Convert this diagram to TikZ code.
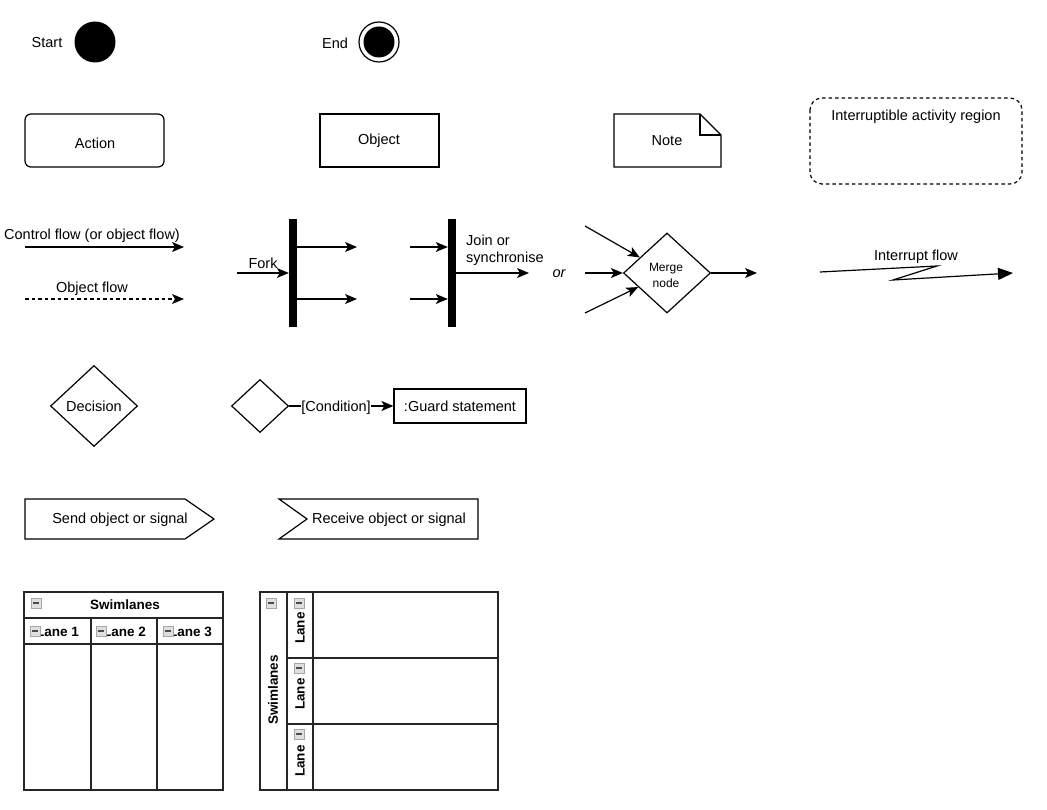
\documentclass[tikz,border=0pt]{standalone}
\usepackage{fontspec}
\setmainfont{Liberation Sans}
\usetikzlibrary{arrows.meta,shapes.geometric,calc}
\begin{document}
\begin{tikzpicture}[x=1pt,y=-1pt,
  font=\fontsize{14.5}{17}\selectfont,
  every node/.style={inner sep=0pt},
  lw/.style={line width=1.2pt},
  arr/.style={lw,-{Stealth[length=12pt,width=10pt,inset=3pt]}},
  bar/.style={fill=black,minimum width=8pt,minimum height=108pt},
  lane/.style={line width=1.6pt,draw=black!85},
  icon/.style={draw=gray!70,fill=gray!25,minimum width=10pt,minimum height=10pt,
    path picture={\draw[black!70,line width=1.8pt]
      ([xshift=2pt]path picture bounding box.west) -- ([xshift=-2pt]path picture bounding box.east);}},
  bold/.style={font=\fontsize{13.5}{16}\selectfont\bfseries}
]
\useasboundingbox (0,0) rectangle (1047,810);

% Start / End
\node (tstart) at (47,43) {Start};
\node[circle,fill=black,minimum size=41pt] (start) at (95,42) {};
\node (tend) at (335,43) {End};
\node[circle,draw,lw,minimum size=40pt] (endo) at (379,42) {};
\node[circle,fill=black,minimum size=31pt] (endi) at (379,42) {};

% Action / Object / Note / Region
\node[draw,lw,rounded corners=6pt,minimum width=139pt,minimum height=53pt] (action) at (94.5,140.5) {};
\node (taction) at (95,143) {Action};
\node[draw,lw,minimum width=119pt,minimum height=53pt] (object) at (379.5,140.5) {};
\node (tobject) at (379,141) {Object};
\coordinate (n1) at (614,114);
\coordinate (n2) at (700,114);
\coordinate (n3) at (721,135);
\coordinate (n4) at (721,167);
\coordinate (n5) at (614,167);
\draw[lw] (n1) -- (n2) -- (n3) -- (n4) -- (n5) -- cycle;
\draw[lw] (n2) -- (n2 |- n3) -- (n3);
\node (note) at (667,141) {Note};
\draw[lw,dash pattern=on 3.5pt off 3pt,rounded corners=12pt] (810,98) rectangle (1022,184);
\node (region) at (916,117) {Interruptible activity region};

% Flows
\coordinate (cf0) at (25,247);
\coordinate (cf1) at (184,247);
\draw[arr] (cf0) -- (cf1);
\node (tcf) at (92,236) {Control flow (or object flow)};
\coordinate (of0) at (25,299);
\coordinate (of1) at (184,299);
\draw[arr,dash pattern=on 3.5pt off 3pt] (of0) -- (of1);
\node (tof) at (92,289) {Object flow};

% Fork
\node[bar] (fork) at (293,273) {};
\coordinate (fin) at (237,273);
\draw[arr] (fin) -- (fork.west |- fin);
\node (tfork) at (263,263) {Fork};
\coordinate (fo1) at (357,247);
\coordinate (fo2) at (357,299);
\draw[arr] (fork.east |- fo1) -- (fo1);
\draw[arr] (fork.east |- fo2) -- (fo2);

% Join
\node[bar] (join) at (452,273) {};
\coordinate (ji1) at (410,247);
\coordinate (ji2) at (410,299);
\draw[arr] (ji1) -- (join.west |- ji1);
\draw[arr] (ji2) -- (join.west |- ji2);
\coordinate (jo) at (529,273);
\draw[arr] (join.east |- jo) -- (jo);
\node[align=left,anchor=north west,font=\fontsize{14.5}{17}\selectfont] (tjoin) at (466,235) {Join or\\synchronise};
\node (tor) at (559,274) {\itshape or};

% Merge
\node[diamond,draw,lw,minimum width=87pt,minimum height=80pt] (merge) at (667,273) {};
\node[font=\fontsize{12}{16}\selectfont,align=center] (tmerge) at (666,275) {Merge\\node};
\coordinate (m1) at (585,226);
\coordinate (m2) at (585,273);
\coordinate (m3) at (585,313);
\draw[arr] (m1) -- (merge);
\draw[arr] (m2) -- (merge);
\draw[arr] (m3) -- (merge);
\coordinate (mo) at (757,273);
\draw[arr] (merge.east) -- (mo);

% Interrupt flow
\coordinate (i0) at (820,272);
\coordinate (i1) at (937,266);
\coordinate (i2) at (893,280);
\coordinate (i3) at (1013,273);
\draw[lw,-{Stealth[length=15pt,width=12pt,inset=0pt]}] (i0) -- (i1) -- (i2) -- (i3);
\node (tint) at (916,257) {Interrupt flow};

% Decision
\node[diamond,draw,lw,minimum width=87pt,minimum height=81pt] (decision) at (94,406) {};
\node (tdec) at (94,406) {Decision};
\node[diamond,draw,lw,minimum width=57pt,minimum height=53pt] (cond) at (260,406) {};
\node[draw,lw,minimum width=132pt,minimum height=34pt] (guard) at (460,406) {};
\node (tguard) at (460,406) {:Guard statement};
\draw[arr] (cond.east) -- (guard.west) node[pos=0.45,fill=white,inner xsep=0.5pt,inner ysep=2pt,yshift=-2pt] (tcond) {[Condition]};

% Send / Receive
\coordinate (s1) at (25,499);
\coordinate (s2) at (185,499);
\coordinate (s3) at (214,519);
\coordinate (s4) at (185,539);
\coordinate (s5) at (25,539);
\draw[lw] (s1) -- (s2) -- (s3) -- (s4) -- (s5) -- cycle;
\node (tsend) at (120,520) {Send object or signal};
\coordinate (r1) at (279,499);
\coordinate (r2) at (478,499);
\coordinate (r3) at (478,539);
\coordinate (r4) at (279,539);
\coordinate (r5) at (307,519);
\draw[lw] (r1) -- (r2) -- (r3) -- (r4) -- (r5) -- cycle;
\node (trecv) at (389,520) {Receive object or signal};

% Swimlanes (vertical lanes)
\draw[lane] (24,592) rectangle (223,790);
\draw[lane] (24,618) -- (223,618);
\draw[lane] (24,644) -- (223,644);
\draw[lane] (91,618) -- (91,790);
\draw[lane] (157,618) -- (157,790);
\node[bold] (sw1) at (125,605) {Swimlanes};
\node[icon] (ic0) at (36,603) {};
\node[bold,anchor=east] (l1) at (79,632) {Lane 1};
\node[bold,anchor=east] (l2) at (146,632) {Lane 2};
\node[bold,anchor=east] (l3) at (212,632) {Lane 3};
\node[icon] (ic1) at (35,631) {};
\node[icon] (ic2) at (101,631) {};
\node[icon] (ic3) at (168,631) {};

% Swimlanes (horizontal lanes)
\draw[lane] (260,592) rectangle (498,790);
\draw[lane] (287,592) -- (287,790);
\draw[lane] (313,592) -- (313,790);
\draw[lane] (287,658) -- (498,658);
\draw[lane] (287,724) -- (498,724);
\node[bold,rotate=90] (sw2) at (273,690) {Swimlanes};
\node[icon] (jc0) at (271,603) {};
\node[bold,rotate=90] (h1) at (300,628) {Lane};
\node[bold,rotate=90] (h2) at (300,694) {Lane};
\node[bold,rotate=90] (h3) at (300,761) {Lane};
\node[icon] (jc1) at (299,603) {};
\node[icon] (jc2) at (299,668) {};
\node[icon] (jc3) at (299,734) {};
\end{tikzpicture}
\end{document}
